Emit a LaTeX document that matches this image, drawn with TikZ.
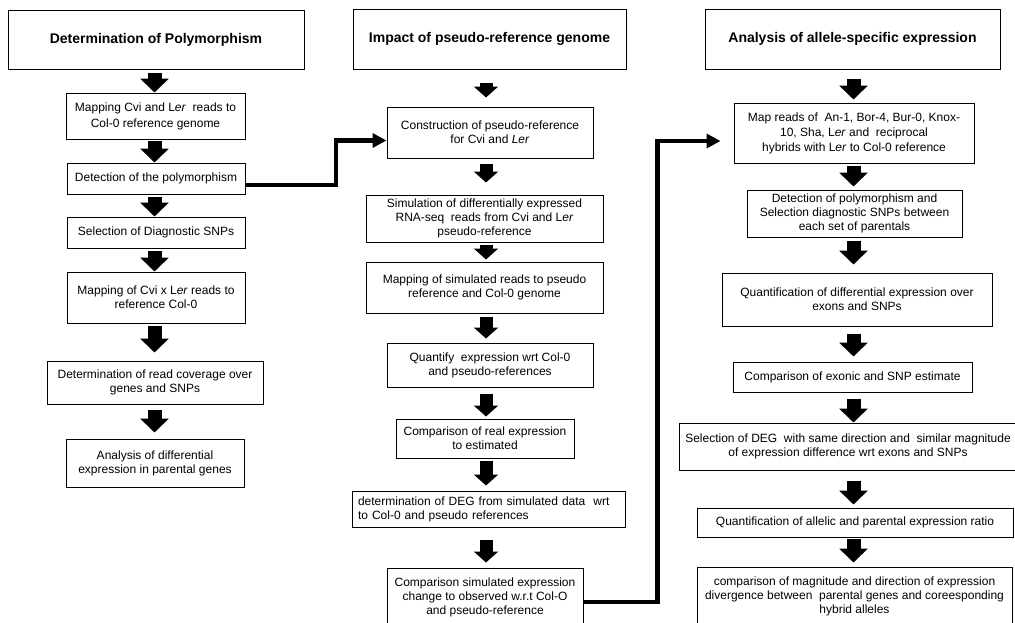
\documentclass[tikz,border=0pt]{standalone}
\usepackage{fontspec}
\setmainfont{Liberation Sans}
\usetikzlibrary{arrows.meta,calc}
\newcommand\blockarrow[6][barrow]{\draw[#1] ($(#2.south -| #3)+(0,#4)$) -- ($(#5.north -| #3)+(0,-#6)$);}
\begin{document}
\begin{tikzpicture}[x=1pt,y=-1pt,
  box/.style={draw=black, line width=1pt, inner sep=0pt, align=center, font=\fontsize{12}{14}\selectfont},
  headbox/.style={box, font=\fontsize{14}{16}\selectfont\bfseries},
  barrow/.style={line width=14pt, -{Triangle[width=28pt,length=14pt]}},
  marrow/.style={line width=13pt, -{Triangle[width=24pt,length=11pt]}},
  conn/.style={line width=4.5pt, -{Triangle[width=14pt,length=14pt]}}]
\useasboundingbox (0,0) rectangle (1015,622);
\clip (0,0) rectangle (1015,622);
\coordinate (xl) at (154.5,0);
\coordinate (xm) at (486,0);
\coordinate (xr) at (853.5,0);
% left column
\node[headbox, minimum width=296pt, minimum height=59pt] (L0) at (156,39.5) {Determination of Polymorphism};
\node[box, minimum width=179pt, minimum height=46pt, font=\fontsize{12}{16}\selectfont] (L1) at (155.5,116) {Mapping Cvi and L\textit{er}~ reads to\\Col-0 reference genome};
\node[box, minimum width=178pt, minimum height=31pt] (L2) at (156,178.5) {Detection of the polymorphism};
\node[box, minimum width=178pt, minimum height=31pt] (L3) at (156,232.5) {Selection of Diagnostic SNPs};
\node[box, minimum width=178pt, minimum height=51pt] (L4) at (156,297.5) {Mapping of Cvi x L\textit{er} reads to\\reference Col-0};
\node[box, minimum width=216pt, minimum height=43pt] (L5) at (155,382.5) {Determination of read coverage over\\genes and SNPs};
\node[box, minimum width=178pt, minimum height=48pt] (L6) at (155,463) {Analysis of differential\\expression in parental genes};
% middle column
\node[headbox, minimum width=273pt, minimum height=60pt] (M0) at (489.5,39) {Impact of pseudo-reference genome};
\node[box, minimum width=206pt, minimum height=51pt] (M1) at (490,132.5) {Construction of pseudo-reference\\for Cvi and \textit{Ler}};
\node[box, minimum width=237pt, minimum height=47pt] (M2) at (484.5,218.5) {Simulation of differentially expressed\\RNA-seq~ reads from Cvi and L\textit{er}\\pseudo-reference};
\node[box, minimum width=237pt, minimum height=51pt] (M3) at (484.5,287.5) {Mapping of simulated reads to pseudo\\reference and Col-0 genome};
\node[box, minimum width=206pt, minimum height=44pt] (M4) at (490,365) {Quantify~ expression wrt Col-0\\and pseudo-references};
\node[box, minimum width=178pt, minimum height=39pt] (M5) at (485,438.5) {Comparison of real expression\\to estimated};
\node[box, align=left, text width=261pt, inner xsep=6pt, minimum height=36pt] (M6) at (488.5,509) {determination of DEG from simulated data~ wrt\\to Col-0 and pseudo references};
\node[box, minimum width=196pt, minimum height=58pt] (M7) at (485,597) {Comparison simulated expression\\change to observed w.r.t Col-O\\and pseudo-reference};
% right column
\node[headbox, minimum width=295pt, minimum height=60pt] (R0) at (852.5,39) {Analysis of allele-specific expression};
\node[box, minimum width=240pt, minimum height=60pt, font=\fontsize{12}{15}\selectfont] (R1) at (854,133) {Map reads of~ An-1, Bor-4, Bur-0, Knox-\\10, Sha, L\textit{er} and~ reciprocal\\hybrids with L\textit{er} to Col-0 reference};
\node[box, minimum width=215pt, minimum height=47pt] (R2) at (854.5,213.5) {Detection of polymorphism and\\Selection diagnostic SNPs between\\each set of parentals};
\node[box, minimum width=270pt, minimum height=53pt] (R3) at (857,299.5) {Quantification of differential expression over\\exons and SNPs};
\node[box, minimum width=239pt, minimum height=30pt] (R4) at (852.5,377) {Comparison of exonic and SNP estimate};
\node[box, minimum width=338pt, minimum height=47pt] (R5) at (848,446.5) {Selection of DEG~ with same direction and~ similar magnitude\\of expression difference wrt exons and SNPs};
\node[box, minimum width=316pt, minimum height=29pt] (R6) at (855,522.5) {Quantification of allelic and parental expression ratio};
\node[box, minimum width=315pt, minimum height=60pt] (R7) at (854.5,597) {\makebox[0pt]{\begin{tabular}{@{}c@{}}comparison of magnitude and direction of expression\\divergence between~ parental genes and coreesponding\\hybrid alleles\end{tabular}}};
% block arrows
\blockarrow{L0}{xl}{3}{L1}{0}
\blockarrow{L1}{xl}{1}{L2}{0}
\blockarrow{L2}{xl}{2}{L3}{0}
\blockarrow{L3}{xl}{2}{L4}{0}
\blockarrow{L4}{xl}{2}{L5}{8}
\blockarrow{L5}{xl}{5}{L6}{6}
\blockarrow[marrow]{M0}{xm}{13}{M1}{9}
\blockarrow[marrow]{M1}{xm}{5}{M2}{12}
\blockarrow[marrow]{M2}{xm}{2}{M3}{2}
\blockarrow[marrow]{M3}{xm}{3}{M4}{4}
\blockarrow[marrow]{M4}{xm}{6}{M5}{2}
\blockarrow[marrow]{M5}{xm}{2}{M6}{5}
\blockarrow[marrow]{M6}{xm}{12}{M7}{5}
\blockarrow{R0}{xr}{9}{R1}{3}
\blockarrow{R1}{xr}{2}{R2}{3}
\blockarrow{R2}{xr}{3}{R3}{8}
\blockarrow{R3}{xr}{7}{R4}{5}
\blockarrow{R4}{xr}{6}{R5}{0}
\blockarrow{R5}{xr}{10}{R6}{3}
\blockarrow{R6}{xr}{1}{R7}{4}
% connectors
\draw[conn] ([yshift=-6.5pt]L2.east) -- ++(90.5,0) |- ([yshift=-8pt]M1.west);
\draw[conn, shorten >=13pt] ([yshift=-5pt]M7.east) -- ++(74,0) |- ([yshift=-8pt]R1.west);
\end{tikzpicture}
\end{document}
